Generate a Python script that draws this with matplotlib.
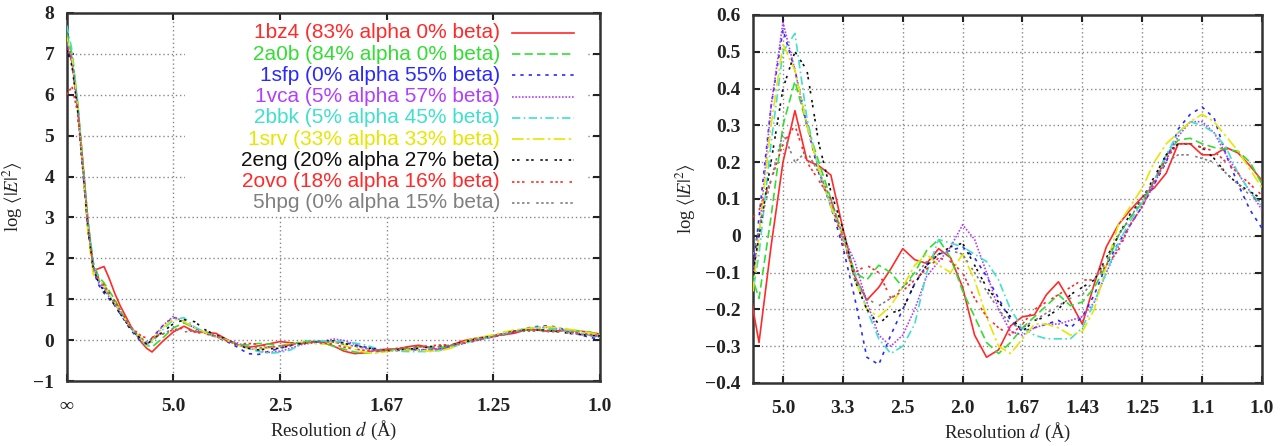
import matplotlib
matplotlib.use("Agg")
import matplotlib.pyplot as plt
from matplotlib.lines import Line2D
from matplotlib.patches import Rectangle

plt.rcParams['font.family'] = ['Liberation Serif', 'DejaVu Serif']
plt.rcParams['mathtext.fontset'] = 'stix'

# x = 1/d (1/Angstrom)
X = [0.00, 0.01, 0.02, 0.03, 0.04, 0.05, 0.06, 0.07, 0.08, 0.09, 0.10, 0.12, 0.14,
     0.15, 0.16, 0.18, 0.20, 0.22, 0.24, 0.26, 0.28, 0.30, 0.32, 0.34, 0.36, 0.38,
     0.40, 0.42, 0.44, 0.46, 0.48, 0.50, 0.52, 0.54, 0.56, 0.58, 0.60, 0.62, 0.64,
     0.66, 0.68, 0.70, 0.72, 0.74, 0.76, 0.78, 0.80, 0.82, 0.84, 0.86, 0.88, 0.90,
     0.92, 0.94, 0.96, 0.98, 1.00]

y_1bz4 = [7.2, 6.8, 5.8, 4.4, 2.9, 1.7, 1.75, 1.8, 1.5, 1.15, 0.85, 0.35, -0.05,
          -0.2, -0.29, -0.03, 0.2, 0.34, 0.205, 0.19, 0.165, 0.02, -0.11, -0.175, -0.14, -0.09,
          -0.035, -0.065, -0.075, -0.035, -0.06, -0.14, -0.27, -0.33, -0.31, -0.245, -0.22, -0.215, -0.16,
          -0.125, -0.18, -0.24, -0.13, -0.03, 0.03, 0.07, 0.105, 0.13, 0.17, 0.25, 0.25, 0.22,
          0.22, 0.24, 0.225, 0.19, 0.15]
y_2a0b = [7.5, 7.0, 5.9, 4.4, 2.9, 1.9, 1.55, 1.4, 1.2, 1.0, 0.75, 0.3, 0.0,
          -0.12, -0.17, 0.05, 0.3, 0.42, 0.3, 0.2, 0.1, 0.0, -0.1, -0.12, -0.08, -0.1,
          -0.14, -0.1, -0.04, -0.01, -0.06, -0.15, -0.22, -0.29, -0.32, -0.29, -0.25, -0.22, -0.19,
          -0.16, -0.19, -0.18, -0.14, -0.08, 0.0, 0.05, 0.09, 0.15, 0.22, 0.26, 0.265, 0.25,
          0.24, 0.235, 0.23, 0.2, 0.14]
y_1sfp = [7.2, 6.8, 5.7, 4.2, 2.7, 1.7, 1.35, 1.15, 1.0, 0.85, 0.65, 0.25, -0.05,
          -0.1, 0.05, 0.35, 0.56, 0.45, 0.3, 0.17, 0.08, -0.03, -0.17, -0.33, -0.35, -0.27,
          -0.2, -0.13, -0.08, -0.05, -0.04, -0.03, -0.06, -0.11, -0.17, -0.23, -0.26, -0.25, -0.24,
          -0.23, -0.25, -0.22, -0.16, -0.08, -0.02, 0.03, 0.08, 0.14, 0.2, 0.29, 0.33, 0.35,
          0.32, 0.22, 0.14, 0.07, 0.02]
y_1vca = [7.3, 6.9, 5.8, 4.3, 2.8, 1.8, 1.4, 1.25, 1.05, 0.9, 0.7, 0.3, 0.0,
          -0.1, 0.0, 0.35, 0.58, 0.45, 0.3, 0.18, 0.08, 0.0, -0.07, -0.18, -0.27, -0.3,
          -0.27, -0.2, -0.11, -0.07, -0.03, 0.03, -0.01, -0.1, -0.2, -0.26, -0.27, -0.25, -0.24,
          -0.24, -0.23, -0.22, -0.18, -0.1, -0.03, 0.03, 0.08, 0.14, 0.21, 0.27, 0.31, 0.31,
          0.28, 0.22, 0.17, 0.12, 0.07]
y_2bbk = [7.7, 7.1, 5.9, 4.4, 2.9, 1.85, 1.5, 1.3, 1.1, 0.9, 0.7, 0.3, 0.0,
          -0.15, -0.05, 0.25, 0.5, 0.55, 0.32, 0.18, 0.08, 0.0, -0.1, -0.2, -0.28, -0.32,
          -0.3, -0.24, -0.1, -0.01, -0.02, -0.03, -0.05, -0.07, -0.12, -0.2, -0.25, -0.27, -0.28,
          -0.28, -0.28, -0.25, -0.18, -0.1, -0.02, 0.04, 0.09, 0.15, 0.22, 0.28, 0.31, 0.3,
          0.28, 0.24, 0.17, 0.12, 0.08]
y_1srv = [7.4, 6.9, 5.8, 4.3, 2.6, 1.6, 1.5, 1.35, 1.1, 0.9, 0.72, 0.3, 0.05,
          -0.15, 0.0, 0.3, 0.52, 0.45, 0.3, 0.18, 0.08, 0.0, -0.12, -0.2, -0.22, -0.19,
          -0.14, -0.08, -0.05, -0.08, -0.1, -0.05, -0.12, -0.22, -0.3, -0.32, -0.28, -0.24, -0.24,
          -0.25, -0.27, -0.26, -0.2, -0.08, 0.03, 0.08, 0.13, 0.2, 0.25, 0.28, 0.31, 0.33,
          0.31, 0.27, 0.23, 0.18, 0.13]
y_2eng = [7.1, 6.7, 5.7, 4.2, 2.7, 1.75, 1.4, 1.2, 1.05, 0.85, 0.65, 0.28, 0.02,
          -0.1, 0.0, 0.2, 0.4, 0.5, 0.45, 0.25, 0.12, 0.02, -0.12, -0.2, -0.24, -0.21,
          -0.2, -0.13, -0.08, -0.05, -0.03, -0.02, -0.08, -0.14, -0.18, -0.22, -0.26, -0.23, -0.22,
          -0.2, -0.16, -0.14, -0.12, -0.06, 0.0, 0.06, 0.1, 0.16, 0.22, 0.25, 0.25, 0.24,
          0.21, 0.17, 0.14, 0.12, 0.1]
y_2ovo = [6.0, 6.2, 5.6, 4.3, 2.8, 1.8, 1.5, 1.35, 1.15, 0.95, 0.75, 0.32, 0.1,
          0.05, 0.07, 0.15, 0.25, 0.3, 0.2, 0.15, 0.1, -0.02, -0.1, -0.08, -0.1, -0.17,
          -0.15, -0.12, -0.09, -0.06, -0.07, -0.1, -0.17, -0.22, -0.25, -0.27, -0.24, -0.2, -0.18,
          -0.16, -0.14, -0.12, -0.12, -0.08, -0.04, 0.03, 0.08, 0.15, 0.21, 0.25, 0.25, 0.24,
          0.23, 0.2, 0.17, 0.14, 0.11]
y_5hpg = [7.3, 6.9, 5.8, 4.3, 2.8, 1.8, 1.45, 1.3, 1.1, 0.9, 0.7, 0.3, 0.05,
          -0.05, 0.02, 0.15, 0.28, 0.2, 0.23, 0.17, 0.1, 0.0, -0.12, -0.17, -0.19, -0.17,
          -0.14, -0.11, -0.07, -0.05, -0.04, -0.05, -0.1, -0.15, -0.2, -0.24, -0.25, -0.23, -0.21,
          -0.19, -0.17, -0.16, -0.12, -0.07, 0.0, 0.05, 0.1, 0.15, 0.2, 0.22, 0.22, 0.21,
          0.2, 0.17, 0.14, 0.11, 0.09]

labels = ['1bz4 (83% alpha 0% beta)', '2a0b (84% alpha 0% beta)', '1sfp (0% alpha 55% beta)',
          '1vca (5% alpha 57% beta)', '2bbk (5% alpha 45% beta)', '1srv (33% alpha 33% beta)',
          '2eng (20% alpha 27% beta)', '2ovo (18% alpha 16% beta)', '5hpg (0% alpha 15% beta)']
series = [y_1bz4, y_2a0b, y_1sfp, y_1vca, y_2bbk, y_1srv, y_2eng, y_2ovo, y_5hpg]
colors = ['#ff2a2a', '#33dd33', '#2a2aff', '#b040ff', '#40e0cc', '#e6e600', '#111111', '#ff2a2a', '#808080']
dashes = [(), (5, 2.5), (2, 3), (1, 1), (5, 2, 1, 2), (7, 2, 1.5, 2), (1.5, 1.5, 1.5, 4),
          (1.5, 1.5, 1.5, 1.5, 1.5, 4), (1.5, 1.5, 1.5, 1.5, 1.5, 1.5, 1.5, 4)]

left_ticks = [0.0, 0.2, 0.4, 0.6, 0.8, 1.0]
left_ticklabels = ['\u221e', '5.0', '2.5', '1.67', '1.25', '1.0']
right_ticks = [0.2, 0.3, 0.4, 0.5, 0.6, 0.7, 0.8, 0.9, 1.0]
right_ticklabels = ['5.0', '3.3', '2.5', '2.0', '1.67', '1.43', '1.25', '1.1', '1.0']

fig = plt.figure(figsize=(12.87, 4.46), dpi=100)
ax1 = fig.add_axes([0.0518, 0.1457, 0.4144, 0.8252])
ax2 = fig.add_axes([0.5851, 0.1413, 0.3955, 0.8251])


def style(ax, ticks, ticklabels, ypad):
    ax.set_xticks(ticks)
    ax.set_xticklabels(ticklabels)
    ax.tick_params(axis='both', which='both', direction='in', length=5, width=1.5,
                   top=True, right=True, labelsize=14, colors='#222222')
    for lab in ax.get_xticklabels() + ax.get_yticklabels():
        lab.set_fontweight('bold')
    ax.tick_params(axis='x', pad=12)
    ax.tick_params(axis='y', pad=ypad)
    for sp in ax.spines.values():
        sp.set_linewidth(1.8)
        sp.set_color('#333333')
    ax.grid(True, linestyle=(0, (1, 2)), color='#888888', linewidth=1.0)
    ax.set_axisbelow(True)
    ax.set_xlabel(r'Resolution $d$ (Å)', fontsize=13.5, labelpad=3, color='#222222')
    ax.set_ylabel(r'log $\langle|E|^2\rangle$', fontsize=13.5, color='#222222')


for ax in (ax1, ax2):
    for ys, c, d in zip(series, colors, dashes):
        ln, = ax.plot(X, ys, color=c, linewidth=1.2, zorder=3)
        if d:
            ln.set_dashes(d)

ax1.set_xlim(0, 1.0)
ax1.set_ylim(-1, 8)
ax1.set_yticks(range(-1, 9))
ax1.set_yticklabels(['\u22121'] + [str(v) for v in range(0, 9)])
style(ax1, left_ticks, left_ticklabels, 9)
ax1.yaxis.labelpad = 6

ax2.set_xlim(0.15, 1.0)
ax2.set_ylim(-0.4, 0.6)
yt = [-0.4, -0.3, -0.2, -0.1, 0, 0.1, 0.2, 0.3, 0.4, 0.5, 0.6]
ax2.set_yticks(yt)
ax2.set_yticklabels([('\u2212%.1f' % -v) if v < 0 else ('0' if v == 0 else '%.1f' % v) for v in yt])
style(ax2, right_ticks, right_ticklabels, 9)
ax2.yaxis.labelpad = 5

# opaque key box (gnuplot style) in left panel
ax1.add_patch(Rectangle((0.222, 0.45), 0.755, 0.525, transform=ax1.transAxes,
                        facecolor='white', edgecolor='none', zorder=2))
row0, step = 0.9457, 0.0577
for i, (lab, c, d) in enumerate(zip(labels, colors, dashes)):
    yy = row0 - i * step
    ax1.text(0.8125, yy, lab, transform=ax1.transAxes, ha='right', va='center',
             color=c, fontsize=15, family=['Liberation Sans', 'DejaVu Sans'], zorder=4)
    ln = Line2D([0.835, 0.951], [yy, yy], transform=ax1.transAxes, color=c,
                linewidth=1.2, zorder=4)
    if d:
        ln.set_dashes(d)
    ax1.add_line(ln)

fig.savefig('out.png', dpi=100)
